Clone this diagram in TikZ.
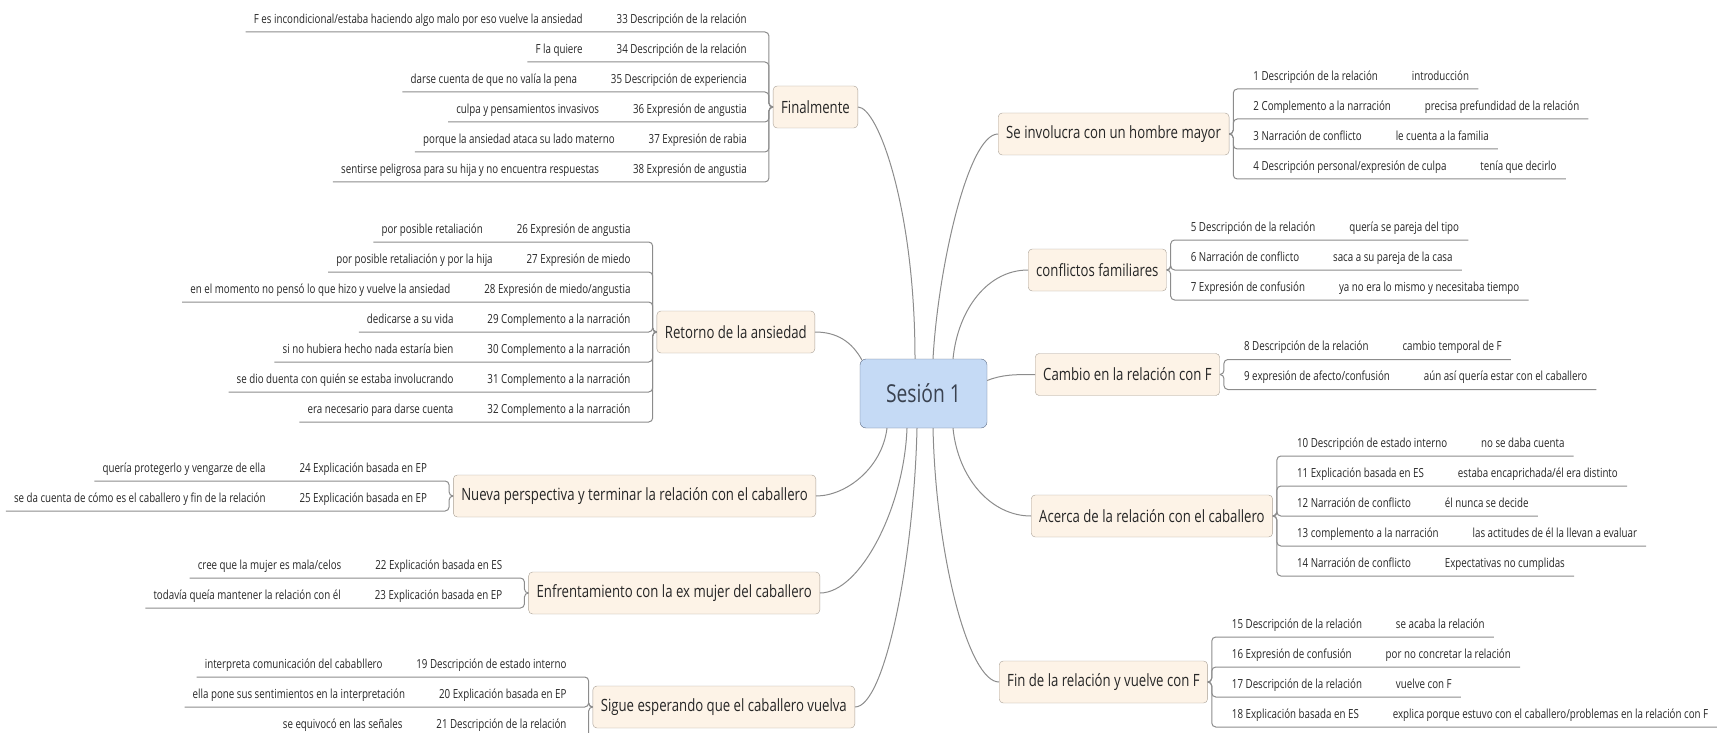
\documentclass[tikz,border=0pt]{standalone}
\usepackage{fontspec}
\setmainfont{Open Sans}[FakeStretch=0.78]
\usepackage{tikz}
\usetikzlibrary{calc,positioning}
\definecolor{topicfill}{RGB}{253,243,231}
\definecolor{topicline}{RGB}{168,160,150}
\definecolor{centrefill}{RGB}{197,218,245}
\definecolor{centreline}{RGB}{96,110,134}
\definecolor{branchline}{RGB}{140,140,140}
\definecolor{inktext}{RGB}{38,38,38}
\definecolor{centretext}{RGB}{58,66,80}
\tikzset{
  centre/.style={draw=centreline,fill=centrefill,rounded corners=6pt,minimum width=127pt,minimum height=69pt,font=\fontsize{24.7}{28}\selectfont,text=centretext},
  topic/.style={draw=topicline,fill=topicfill,rounded corners=4pt,inner xsep=8pt,minimum height=42pt,font=\fontsize{16.9}{20}\selectfont,text=inktext},
  rowtext/.style={inner sep=0pt,text height=9pt,text depth=8.5pt,font=\fontsize{12.5}{14}\selectfont,text=inktext},
  branch/.style={draw=branchline,line width=1pt,rounded corners=4pt},
  link/.style={draw=branchline,line width=1pt}
}
\newcommand{\rowright}[5]{%
  \node[rowtext,anchor=south west] (#2) at ($(#1.east)+(4,#3*30)$) {\kern20pt#4\kern34pt#5\kern9pt\null};%
  \draw[branch] (#1.east) -- ++(4,0) |- (#2.south east);%
}
\newcommand{\rowleft}[5]{%
  \node[rowtext,anchor=south east] (#2) at ($(#1.west)+(-4,#3*30)$) {\kern8pt#5\kern34pt#4\kern22pt\null};%
  \draw[branch] (#1.west) -- ++(-4,0) |- (#2.south west);%
}
\begin{document}
\begin{tikzpicture}[x=1pt,y=-1pt]
  \useasboundingbox (0,0) rectangle (1717,733);
  \node[centre] (sesion) at (923.5,393.5) {Sesión 1};

  \node[topic,anchor=west] (involucra) at (998,134) {Se involucra con un hombre mayor};
  \node[topic,anchor=west] (conflictos) at (1028,270) {conflictos familiares};
  \node[topic,anchor=west] (cambio) at (1035,374.5) {Cambio en la relación con F};
  \node[topic,anchor=west] (acerca) at (1031,516) {Acerca de la relación con el caballero};
  \node[topic,anchor=west] (fin) at (999,682) {Fin de la relación y vuelve con F};
  \node[topic,anchor=east] (finalmente) at (858,107) {Finalmente};
  \node[topic,anchor=east] (retorno) at (815,332) {Retorno de la ansiedad};
  \node[topic,anchor=east] (nueva) at (816,496) {Nueva perspectiva y terminar la relación con el caballero};
  \node[topic,anchor=east] (enfrenta) at (820,593) {Enfrentamiento con la ex mujer del caballero};
  \node[topic,anchor=east] (sigue) at (855,707) {Sigue esperando que el caballero vuelva};

  \rowright{involucra}{r1}{-1.5}{1 Descripción de la relación}{introducción}
  \rowright{involucra}{r2}{-0.5}{2 Complemento a la narración}{precisa prefundidad de la relación}
  \rowright{involucra}{r3}{0.5}{3 Narración de conflicto}{le cuenta a la familia}
  \rowright{involucra}{r4}{1.5}{4 Descripción personal/expresión de culpa}{tenía que decirlo}
  \rowright{conflictos}{r5}{-1}{5 Descripción de la relación}{quería se pareja del tipo}
  \rowright{conflictos}{r6}{0}{6 Narración de conflicto}{saca a su pareja de la casa}
  \rowright{conflictos}{r7}{1}{7 Expresión de confusión}{ya no era lo mismo y necesitaba tiempo}
  \rowright{cambio}{r8}{-0.5}{8 Descripción de la relación}{cambio temporal de F}
  \rowright{cambio}{r9}{0.5}{9 expresión de afecto/confusión}{aún así quería estar con el caballero}
  \rowright{acerca}{r10}{-2}{10 Descripción de estado interno}{no se daba cuenta}
  \rowright{acerca}{r11}{-1}{11 Explicación basada en ES}{estaba encaprichada/él era distinto}
  \rowright{acerca}{r12}{0}{12 Narración de conflicto}{él nunca se decide}
  \rowright{acerca}{r13}{1}{13 complemento a la narración}{las actitudes de él la llevan a evaluar}
  \rowright{acerca}{r14}{2}{14 Narración de conflicto}{Expectativas no cumplidas}
  \rowright{fin}{r15}{-1.5}{15 Descripción de la relación}{se acaba la relación}
  \rowright{fin}{r16}{-0.5}{16 Expresión de confusión}{por no concretar la relación}
  \rowright{fin}{r17}{0.5}{17 Descripción de la relación}{vuelve con F}
  \rowright{fin}{r18}{1.5}{18 Explicación basada en ES}{explica porque estuvo con el caballero/problemas en la relación con F}

  \rowleft{finalmente}{r33}{-2.5}{33 Descripción de la relación}{F es incondicional/estaba haciendo algo malo por eso vuelve la ansiedad}
  \rowleft{finalmente}{r34}{-1.5}{34 Descripción de la relación}{F la quiere}
  \rowleft{finalmente}{r35}{-0.5}{35 Descripción de experiencia}{darse cuenta de que no valía la pena}
  \rowleft{finalmente}{r36}{0.5}{36 Expresión de angustia}{culpa y pensamientos invasivos}
  \rowleft{finalmente}{r37}{1.5}{37 Expresión de rabia}{porque la ansiedad ataca su lado materno}
  \rowleft{finalmente}{r38}{2.5}{38 Expresión de angustia}{sentirse peligrosa para su hija y no encuentra respuestas}
  \rowleft{retorno}{r26}{-3}{26 Expresión de angustia}{por posible retaliación}
  \rowleft{retorno}{r27}{-2}{27 Expresión de miedo}{por posible retaliación y por la hija}
  \rowleft{retorno}{r28}{-1}{28 Expresión de miedo/angustia}{en el momento no pensó lo que hizo y vuelve la ansiedad}
  \rowleft{retorno}{r29}{0}{29 Complemento a la narración}{dedicarse a su vida}
  \rowleft{retorno}{r30}{1}{30 Complemento a la narración}{si no hubiera hecho nada estaría bien}
  \rowleft{retorno}{r31}{2}{31 Complemento a la narración}{se dio duenta con quién se estaba involucrando}
  \rowleft{retorno}{r32}{3}{32 Complemento a la narración}{era necesario para darse cuenta}
  \rowleft{nueva}{r24}{-0.5}{24 Explicación basada en EP}{quería protegerlo y vengarze de ella}
  \rowleft{nueva}{r25}{0.5}{25 Explicación basada en EP}{se da cuenta de cómo es el caballero y fin de la relación}
  \rowleft{enfrenta}{r22}{-0.5}{22 Explicación basada en ES}{cree que la mujer es mala/celos}
  \rowleft{enfrenta}{r23}{0.5}{23 Explicación basada en EP}{todavía queía mantener la relación con él}
  \rowleft{sigue}{r19}{-1}{19 Descripción de estado interno}{interpreta comunicación del cababllero}
  \rowleft{sigue}{r20}{0}{20 Explicación basada en EP}{ella pone sus sentimientos en la interpretación}
  \rowleft{sigue}{r21}{1}{21 Descripción de la relación}{se equivocó en las señales}

  \coordinate (sFinal) at ($(sesion.north)+(-8.5,0)$);
  \coordinate (sInvol) at ($(sesion.north)+(9.5,0)$);
  \coordinate (sConfl) at ($(sesion.north)+(29.5,0)$);
  \coordinate (sRetor) at ($(sesion.north west)+(2,1)$);
  \coordinate (sCambio) at ($(sesion.east)+(0,-13)$);
  \coordinate (sNueva) at ($(sesion.south)+(-36.5,0)$);
  \coordinate (sEnfr) at ($(sesion.south)+(-16.5,0)$);
  \coordinate (sSigue) at ($(sesion.south)+(-6.5,0)$);
  \coordinate (sFin) at ($(sesion.south)+(9.5,0)$);
  \coordinate (sAcerca) at ($(sesion.south)+(29.5,0)$);

  \draw[link] (sFinal) .. controls +(0,-150) and +(20,0) .. (finalmente.east);
  \draw[link] (sInvol) .. controls +(5,-90) and +(-30,0) .. (involucra.west);
  \draw[link] (sConfl) .. controls +(5,-50) and +(-40,0) .. (conflictos.west);
  \draw[link] (sRetor) .. controls +(-10,-18) and +(22,0) .. (retorno.east);
  \draw[link] (sCambio) .. controls +(15,-6) and +(-20,0) .. (cambio.west);
  \draw[link] (sNueva) .. controls +(-5,40) and +(30,0) .. (nueva.east);
  \draw[link] (sEnfr) .. controls +(-3,80) and +(40,0) .. (enfrenta.east);
  \draw[link] (sSigue) .. controls +(-3,130) and +(30,0) .. (sigue.east);
  \draw[link] (sFin) .. controls +(3,130) and +(-30,0) .. (fin.west);
  \draw[link] (sAcerca) .. controls +(5,50) and +(-40,0) .. (acerca.west);
\end{tikzpicture}
\end{document}
